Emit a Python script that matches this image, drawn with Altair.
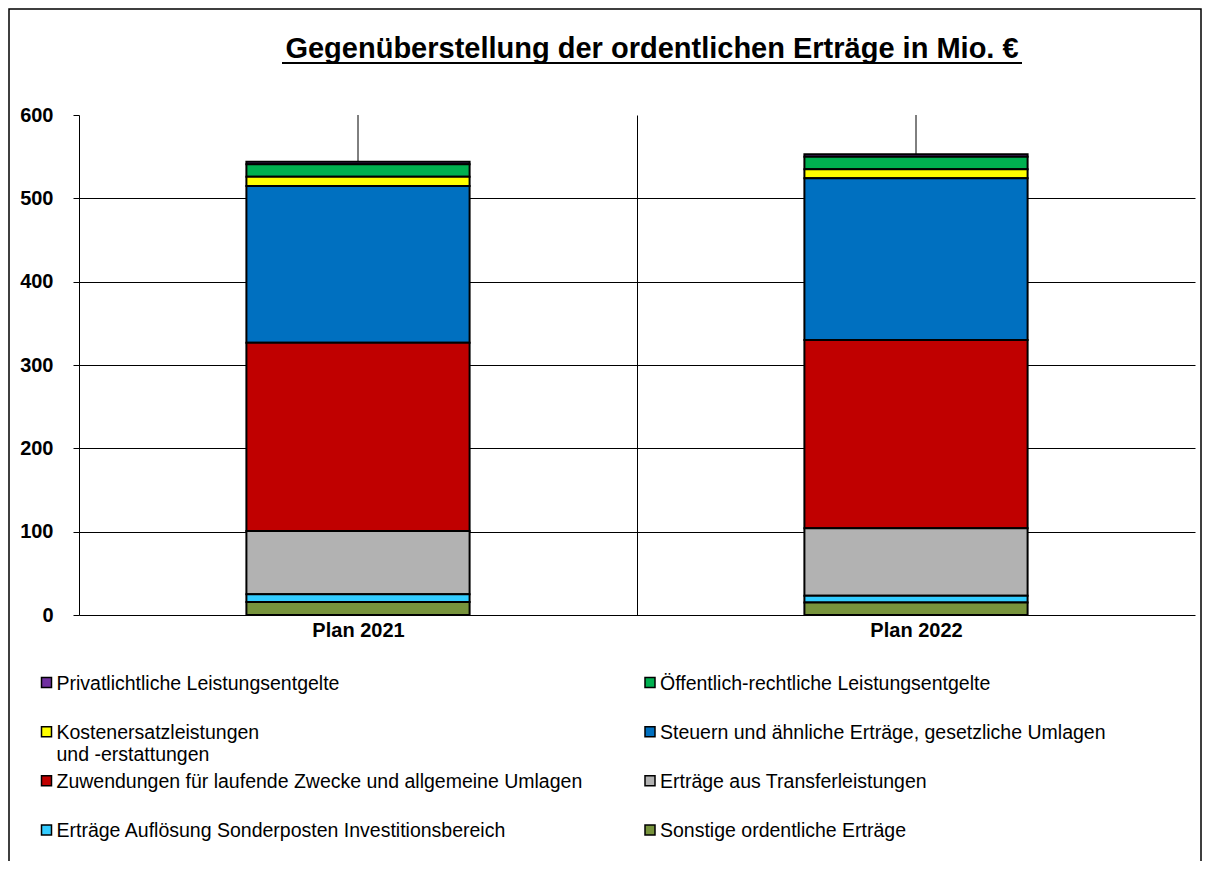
import altair as alt
import pandas as pd

plans = ["Plan 2021", "Plan 2022"]
categories = [
    "Privatlichtliche Leistungsentgelte",
    "Öffentlich-rechtliche Leistungsentgelte",
    "Kostenersatzleistungen\nund -erstattungen",
    "Steuern und ähnliche Erträge, gesetzliche Umlagen",
    "Zuwendungen für laufende Zwecke und allgemeine Umlagen",
    "Erträge aus Transferleistungen",
    "Erträge Auflösung Sonderposten Investitionsbereich",
    "Sonstige ordentliche Erträge",
]
colors = ["#7030A0", "#00B050", "#FFFF00", "#0070C0", "#C00000", "#B2B2B2", "#33CCFF", "#77933C"]
values_2021 = [3, 15, 11, 188, 226, 75.8, 9.5, 15.5]
values_2022 = [3, 15, 11, 194, 226, 81, 8, 15]
y_ticks = [0, 100, 200, 300, 400, 500, 600]
title_text = "Gegenüberstellung der ordentlichen Erträge in Mio. €"

FONT = "Liberation Sans, Arial, sans-serif"

rows = []
for p, vals in zip(plans, [values_2021, values_2022]):
    for i, (c, v) in enumerate(zip(categories, vals)):
        rows.append({"plan": p, "category": c, "value": v, "stack": len(categories) - i})
df = pd.DataFrame(rows)

color_scale = alt.Scale(domain=categories, range=colors)

x_enc = alt.X(
    "plan:N", sort=plans,
    scale=alt.Scale(paddingInner=0, paddingOuter=0),
    axis=alt.Axis(title=None, labelFont=FONT, labelFontWeight="bold", labelFontSize=20,
                  labelColor="black", labelPadding=15, labelAlign="center", labelAngle=0,
                  ticks=False, tickBand="extent",
                  grid=True, gridColor="black", gridWidth=1,
                  gridOpacity=alt.condition("datum.value == 'Plan 2021'",
                                            alt.value(1), alt.value(0)),
                  domainColor="black", domainWidth=1),
)
y_enc = alt.Y(
    "value:Q", stack="zero",
    scale=alt.Scale(domain=[0, 600], nice=False),
    axis=alt.Axis(title=None, values=y_ticks, labelFont=FONT, labelFontWeight="bold",
                  labelFontSize=20, labelColor="black", labelPadding=20, tickSize=6,
                  tickColor="black", domainColor="black", gridColor="black", gridWidth=1,
                  gridOpacity=alt.condition("datum.value == 600 || datum.value == 0",
                                            alt.value(0), alt.value(1))),
)

bars = alt.Chart(df).mark_bar(
    stroke="black", strokeWidth=2, width=alt.RelativeBandSize(0.4)
).encode(
    x=x_enc,
    y=y_enc,
    color=alt.Color("category:N", scale=color_scale, legend=None),
    order=alt.Order("stack:Q", sort="ascending"),
)

rule_df = pd.DataFrame({"plan": plans, "lo": [0, 0], "hi": [600, 600]})
center_rules = alt.Chart(rule_df).mark_rule(color="black", strokeWidth=1).encode(
    x=alt.X("plan:N", sort=plans), y=alt.Y("lo:Q"), y2="hi:Q"
)

one = pd.DataFrame({"title": [title_text]})
frame = alt.Chart(one).mark_rect(fill="transparent", stroke="black", strokeWidth=1.5).encode(
    x=alt.value(-70), x2=alt.value(1122), y=alt.value(-106), y2=alt.value(800)
)
title_mark = alt.Chart(one).mark_text(
    font=FONT, fontSize=29, fontWeight="bold", color="black", align="center",
    baseline="alphabetic"
).encode(x=alt.value(573), y=alt.value(-57), text="title:N")
underline = alt.Chart(one).mark_rule(color="black", strokeWidth=2).encode(
    x=alt.value(203), x2=alt.value(943), y=alt.value(-52)
)

main = alt.layer(center_rules, bars, frame, title_mark, underline)

leg = pd.DataFrame({
    "category": categories,
    "col": [i % 2 for i in range(len(categories))],
    "row": [i // 2 for i in range(len(categories))],
})
lx = alt.X("col:Q", scale=alt.Scale(domain=[0, 1], range=[-32.5, 571], nice=False, zero=False), axis=None)
ly = alt.Y("row:Q", scale=alt.Scale(domain=[0, 3], range=[567.5, 715], nice=False, zero=False), axis=None)
leg_sq = alt.Chart(leg).mark_square(size=100, stroke="black", strokeWidth=1.5, opacity=1).encode(
    x=lx, y=ly, color=alt.Color("category:N", scale=color_scale, legend=None)
)
leg_txt = alt.Chart(leg).mark_text(
    align="left", baseline="top", dx=10, dy=-8, fontSize=19.5, font=FONT,
    lineBreak="\n", lineHeight=22, color="black"
).encode(x=lx, y=ly, text="category:N")
legend_layer = alt.layer(leg_sq, leg_txt)

chart = alt.layer(main, legend_layer).resolve_scale(
    x="independent", y="independent"
).properties(
    width=1116, height=500,
    autosize=alt.AutoSizeParams(type="none"),
    padding={"left": 71, "top": 107, "right": 7, "bottom": 246},
).configure_view(stroke=None)

chart.save("out.html", embed_options={"renderer": "svg", "actions": False})
